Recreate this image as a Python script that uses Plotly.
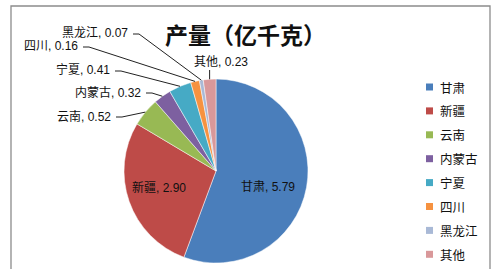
import math
import plotly.graph_objects as go

# ---- data ----
categories = ["甘肃", "新疆", "云南", "内蒙古", "宁夏", "四川", "黑龙江", "其他"]
values = [5.79, 2.90, 0.52, 0.32, 0.41, 0.16, 0.07, 0.23]
colors = ["#4A7EBB", "#BE4B48", "#98B954", "#7D60A0", "#46AAC5", "#F69240", "#A9B9D6", "#D9989A"]
title_text = "产量（亿千克）"

W, H = 499, 269
CX, CY, R = 216, 171, 92  # pie centre / radius in pixels


def px(x):
    return x / W


def py(y):
    return 1 - y / H


fig = go.Figure(go.Pie(
    labels=categories, values=values, sort=False, direction="clockwise", rotation=0,
    marker=dict(colors=colors, line=dict(color="rgba(255,255,255,0.7)", width=0.7)),
    textinfo="none", hoverinfo="label+value", showlegend=False,
    domain=dict(x=[px(CX - R), px(CX + R)], y=[py(CY + R), py(CY - R)]),
))

# slice mid-point on the rim, computed from the data
total = sum(values)
cum = 0
rim = {}
for c, v in zip(categories, values):
    mid = (cum + v / 2) / total
    th = math.radians(90 - 360 * mid)
    rim[c] = (CX + R * math.cos(th), CY - R * math.sin(th))
    cum += v

lab = lambda c, v: f"{c}, {v:.2f}"
font_lbl = dict(family="Liberation Sans, Noto Sans CJK SC", size=12, color="#111")

annotations = []
shapes = []

# inside labels
inside_pos = {"甘肃": (268, 187), "新疆": (159, 187)}
for c, v in zip(categories, values):
    if c in inside_pos:
        x, y = inside_pos[c]
        annotations.append(dict(x=px(x), y=py(y), xref="paper", yref="paper", text=lab(c, v),
                                showarrow=False, font=font_lbl, xanchor="center", yanchor="middle"))

# outside labels with leader lines (text right edge, y centre)
outside_pos = {"云南": (113, 116), "内蒙古": (143, 92), "宁夏": (112, 70),
               "四川": (80, 46), "黑龙江": (130, 33)}
for c, v in zip(categories, values):
    if c in outside_pos:
        x, y = outside_pos[c]
        annotations.append(dict(x=px(x), y=py(y), xref="paper", yref="paper", text=lab(c, v),
                                showarrow=False, font=font_lbl, xanchor="right", yanchor="middle"))
        ex, ey = rim[c]
        path = f"M {px(x + 3)},{py(y + 1)} L {px(x + 9)},{py(y + 1)} L {px(ex)},{py(ey)}"
        shapes.append(dict(type="path", xref="paper", yref="paper", path=path,
                           line=dict(color="#222", width=1)))
    if c == "其他":
        ex, ey = rim[c]
        annotations.append(dict(x=px(221), y=py(62), xref="paper", yref="paper", text=lab(c, v),
                                showarrow=False, font=font_lbl, xanchor="center", yanchor="middle"))
        path = f"M {px(ex)},{py(70)} L {px(ex)},{py(ey)}"
        shapes.append(dict(type="path", xref="paper", yref="paper", path=path,
                           line=dict(color="#222", width=1)))

# title
annotations.append(dict(x=px(245), y=py(34), xref="paper", yref="paper", text="<b>" + title_text + "</b>",
                        showarrow=False, font=dict(family="Noto Sans CJK SC", size=23, color="#111"),
                        xanchor="center", yanchor="middle"))

# legend (manual)
for i, (c, col) in enumerate(zip(categories, colors)):
    yc = 87 + i * 23.9
    shapes.append(dict(type="rect", xref="paper", yref="paper",
                       x0=px(426), x1=px(433), y0=py(yc + 3.5), y1=py(yc - 3.5),
                       fillcolor=col, line=dict(width=0)))
    annotations.append(dict(x=px(438), y=py(yc), xref="paper", yref="paper", text=c,
                            showarrow=False, font=dict(family="Noto Sans CJK SC", size=12.5, color="#111"),
                            xanchor="left", yanchor="middle"))

# chart border
shapes.append(dict(type="rect", xref="paper", yref="paper", x0=px(11), x1=px(490), y0=-0.2, y1=py(6),
                   line=dict(color="#8c8c8c", width=1.3), fillcolor="rgba(0,0,0,0)"))

fig.update_layout(width=W, height=H, margin=dict(l=0, r=0, t=0, b=0),
                  paper_bgcolor="white", plot_bgcolor="white",
                  annotations=annotations, shapes=shapes, showlegend=False)

fig.write_html("out.html")
